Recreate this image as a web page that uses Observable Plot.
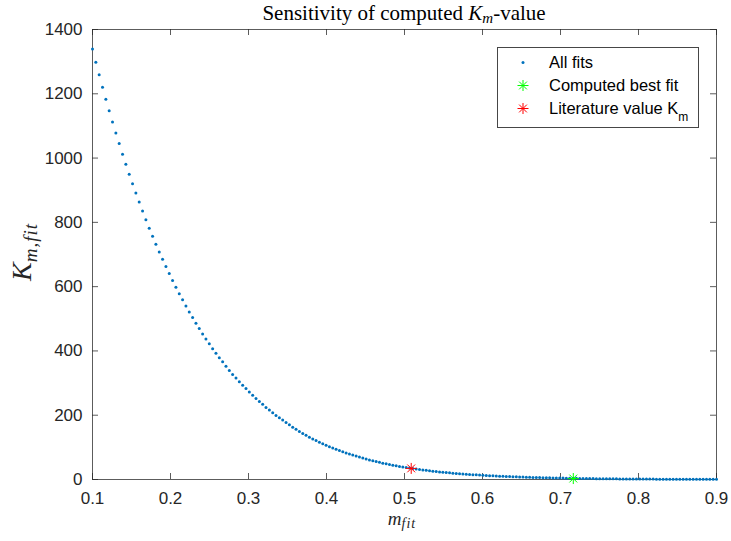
<!DOCTYPE html>
<html>
<head>
<meta charset="utf-8">
<script src="https://cdn.jsdelivr.net/npm/d3@7"></script>
<script src="https://cdn.jsdelivr.net/npm/@observablehq/plot@0.6"></script>
<style>
  html, body { margin: 0; padding: 0; background: #fff; }
  #chart svg { display: block; }
</style>
</head>
<body>
<div id="chart"></div>
<script>
// K_m,fit values, one per fitted m value (evenly spaced m grid 0.1 … 0.9)
const kFit = [
  1339,1298,1259,1220,1183,1147,1112,1078,1045,1012,
  981,950,920,891,863,835,808,782,757,732,
  708,685,663,641,619,598,578,559,540,521,
  504,486,470,453,437,422,407,393,379,366,
  352,339,327,316,304,293,283,272,262,252,
  243,234,224,216,208,199,192,185,177.3,170.0,
  162.9,156.2,149.7,143.5,137.5,131.8,126.3,121.1,116.1,111.2,
  106.6,102.2,98.0,93.9,90.0,86.3,82.7,79.3,76.0,72.8,
  69.8,66.7,63.8,61.0,58.3,55.7,53.3,50.9,48.7,46.6,
  44.5,42.5,40.7,38.9,37.2,35.5,34.0,32.5,31.0,29.7,
  28.4,27.1,25.9,24.8,23.7,22.7,21.7,20.7,19.8,18.9,
  18.1,17.3,16.5,15.8,15.1,14.4,13.7,13.1,12.5,12.0,
  11.4,10.9,10.4,9.9,9.5,9.1,8.7,8.3,7.9,7.5,
  7.2,6.9,6.6,6.3,6.0,5.7,5.5,5.2,5.0,4.8,
  4.5,4.3,4.1,3.9,3.7,3.6,3.4,3.2,3.1,2.9,
  2.8,2.6,2.5,2.4,2.3,2.2,2.1,2.0,1.9,1.8,
  1.7,1.6,1.5,1.5,1.4,1.3,1.3,1.2,1.2,1.1,
  1.0,1.0,0.9,0.9,0.9,0.8,0.8,0.7,0.7,0.7,
  0.6,0.6,0.6,0.5,0.5,0.5,0.5,0.5
];
const mStart = 0.1;
const mEnd = 0.9;
const mFit = d3.range(kFit.length).map(i => mStart + i * (mEnd - mStart) / (kFit.length - 1));

const bestFit = [{m: 0.7164, k: 3.0}];
const literature = [{m: 0.5086, k: 34.5}];

const xTicks = [0.1, 0.2, 0.3, 0.4, 0.5, 0.6, 0.7, 0.8, 0.9];
const yTicks = [0, 200, 400, 600, 800, 1000, 1200, 1400];

const legendLabels = ["All fits", "Computed best fit", "Literature value K"];

const rows = kFit.map((k, i) => ({m: mFit[i], k}));

// 8-armed asterisk like MATLAB's '*' marker
const star = {
  draw(context, size) {
    const r = Math.sqrt(size / Math.PI);
    const d = r * Math.SQRT1_2;
    context.moveTo(-r, 0); context.lineTo(r, 0);
    context.moveTo(0, -r); context.lineTo(0, r);
    context.moveTo(-d, -d); context.lineTo(d, d);
    context.moveTo(-d, d); context.lineTo(d, -d);
  }
};

const W = 731, H = 541;
const mL = 92, mR = 15, mT = 29, mB = 62;
const innerW = W - mL - mR, innerH = H - mT - mB;
const tickLen = 6;
const axisColor = "#262626";

const svg = Plot.plot({
  width: W, height: H,
  marginLeft: mL, marginRight: mR, marginTop: mT, marginBottom: mB,
  style: {fontFamily: "'Liberation Sans', Arial, sans-serif", fontSize: "17px", color: axisColor, background: "#fff"},
  x: {domain: [mStart, mEnd]},
  y: {domain: [0, 1400]},
  marks: [
    Plot.frame({stroke: axisColor, strokeOpacity: 0.75}),
    Plot.tickX(xTicks, {x: d => d, insetTop: innerH - tickLen, stroke: axisColor, strokeOpacity: 0.75}),
    Plot.tickX(xTicks, {x: d => d, insetBottom: innerH - tickLen, stroke: axisColor, strokeOpacity: 0.75}),
    Plot.tickY(yTicks, {y: d => d, insetRight: innerW - tickLen, stroke: axisColor, strokeOpacity: 0.75}),
    Plot.tickY(yTicks, {y: d => d, insetLeft: innerW - tickLen, stroke: axisColor, strokeOpacity: 0.75}),
    Plot.axisX(xTicks, {tickSize: 0, tickPadding: 12, label: null, tickFormat: d => d.toFixed(1), fontSize: 17}),
    Plot.axisY(yTicks, {tickSize: 0, tickPadding: 10, label: null, tickFormat: d => String(d), fontSize: 17}),
    Plot.dot(rows, {x: "m", y: "k", r: 1.5, fill: "#0072BD", stroke: "none"}),
    Plot.dot(literature, {x: "m", y: "k", r: 5.5, symbol: star, stroke: "#FF0000", fill: "none", strokeWidth: 1}),
    Plot.dot(bestFit, {x: "m", y: "k", r: 5.5, symbol: star, stroke: "#00FF00", fill: "none", strokeWidth: 1})
  ]
});

const s = d3.select(svg);
const serif = "'Liberation Serif', 'Times New Roman', serif";

// Title
const title = s.append("text")
  .attr("x", mL + innerW / 2).attr("y", 20)
  .attr("text-anchor", "middle")
  .attr("font-family", serif).attr("font-size", 21).attr("fill", "#000");
title.append("tspan").text("Sensitivity of computed ");
title.append("tspan").attr("font-style", "italic").text("K");
title.append("tspan").attr("font-style", "italic").attr("font-size", 15).attr("dy", 3).text("m");
title.append("tspan").attr("dy", -3).text("-value");

// x label
const xl = s.append("text")
  .attr("x", 402).attr("y", 525)
  .attr("text-anchor", "middle")
  .attr("font-family", serif).attr("font-size", 19).attr("fill", axisColor);
xl.append("tspan").attr("font-style", "italic").text("m");
xl.append("tspan").attr("font-style", "italic").attr("font-size", 14).attr("dy", 3).attr("letter-spacing", 1).text("fit");

// y label
const yl = s.append("text")
  .attr("transform", "translate(31,252) rotate(-90)")
  .attr("text-anchor", "middle")
  .attr("font-family", serif).attr("font-size", 28).attr("fill", axisColor);
yl.append("tspan").attr("font-style", "italic").text("K");
yl.append("tspan").attr("font-style", "italic").attr("font-size", 19).attr("dy", 6).attr("letter-spacing", 1).text("m,fit");

// Legend
const lg = s.append("g").attr("text-anchor", "start");
lg.append("rect").attr("x", 497.5).attr("y", 47.5).attr("width", 201).attr("height", 80)
  .attr("fill", "#fff").attr("stroke", axisColor).attr("stroke-opacity", 0.85);
const legendColors = ["#0072BD", "#00FF00", "#FF0000"];
const rowY = [62.5, 85.5, 108.5];
legendLabels.forEach((lab, i) => {
  if (i === 0) {
    lg.append("circle").attr("cx", 523).attr("cy", rowY[i]).attr("r", 1.5).attr("fill", legendColors[i]);
  } else {
    lg.append("path").attr("transform", `translate(523,${rowY[i]})`)
      .attr("d", d3.symbol(star, 5.5 * 5.5 * Math.PI)())
      .attr("stroke", legendColors[i]).attr("fill", "none").attr("stroke-width", 1);
  }
  const t = lg.append("text").attr("x", 549).attr("y", rowY[i] + 5.8)
    .attr("text-anchor", "start")
    .attr("font-family", "'Liberation Sans', Arial, sans-serif").attr("font-size", 16.5).attr("fill", "#000")
    .text(lab);
  if (i === 2) {
    t.append("tspan").attr("font-size", 12).attr("dy", 7).text("m");
  }
});

document.getElementById("chart").appendChild(svg);
</script>
</body>
</html>
